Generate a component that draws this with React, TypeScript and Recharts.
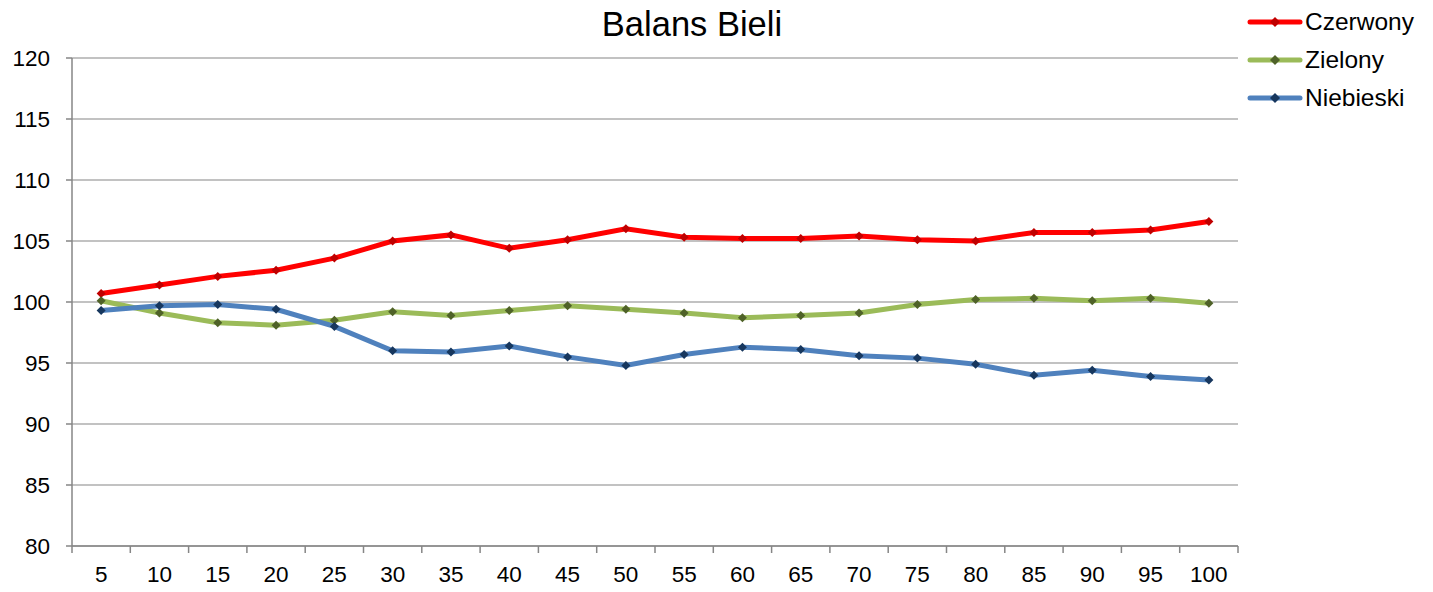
import { LineChart, Line, XAxis, YAxis, CartesianGrid } from "recharts";

const categories = ["5", "10", "15", "20", "25", "30", "35", "40", "45", "50", "55", "60", "65", "70", "75", "80", "85", "90", "95", "100"];
const czerwony = [100.7, 101.4, 102.1, 102.6, 103.6, 105.0, 105.5, 104.4, 105.1, 106.0, 105.3, 105.2, 105.2, 105.4, 105.1, 105.0, 105.7, 105.7, 105.9, 106.6];
const zielony = [100.1, 99.1, 98.3, 98.1, 98.5, 99.2, 98.9, 99.3, 99.7, 99.4, 99.1, 98.7, 98.9, 99.1, 99.8, 100.2, 100.3, 100.1, 100.3, 99.9];
const niebieski = [99.3, 99.7, 99.8, 99.4, 98.0, 96.0, 95.9, 96.4, 95.5, 94.8, 95.7, 96.3, 96.1, 95.6, 95.4, 94.9, 94.0, 94.4, 93.9, 93.6];
const yTicks = [80, 85, 90, 95, 100, 105, 110, 115, 120];

const series = [
  { key: "Czerwony", line: "#ff0000", dot: "#c00000" },
  { key: "Zielony", line: "#9bbb59", dot: "#4f6228" },
  { key: "Niebieski", line: "#4f81bd", dot: "#17375e" },
];

const data = categories.map((c, i) => ({
  cat: c,
  Czerwony: czerwony[i],
  Zielony: zielony[i],
  Niebieski: niebieski[i],
}));

const FONT = "'Liberation Sans', Arial, sans-serif";
const BAND = (1238 - 72) / categories.length;
const AXIS_Y = 546;

const Diamond = (color) => (props) => {
  const { cx, cy, index } = props;
  if (cx == null || cy == null) return null;
  const r = 4.5;
  return (
    <path
      key={index}
      d={`M${cx},${cy - r}L${cx + r},${cy}L${cx},${cy + r}L${cx - r},${cy}Z`}
      fill={color}
    />
  );
};

const XTick = (props) => {
  const { x, payload, index } = props;
  return (
    <g>
      {index === 0 && (
        <line x1={x - BAND / 2} x2={x - BAND / 2} y1={AXIS_Y} y2={AXIS_Y + 7} stroke="#868686" strokeWidth={1.5} />
      )}
      <line x1={x + BAND / 2} x2={x + BAND / 2} y1={AXIS_Y} y2={AXIS_Y + 7} stroke="#868686" strokeWidth={1.5} />
      <text x={x} y={AXIS_Y + 36} textAnchor="middle" fontSize={22.5} fill="#000" fontFamily={FONT}>
        {payload.value}
      </text>
    </g>
  );
};

const LegendBox = () => (
  <div style={{ position: "absolute", left: 1247, top: 3, fontFamily: FONT, fontSize: 24.5 }}>
    {series.map((s) => (
      <div key={s.key} style={{ display: "flex", alignItems: "center", height: 38 }}>
        <svg width={56} height={14} style={{ marginRight: 2 }}>
          <line x1={3} x2={53} y1={7} y2={7} stroke={s.line} strokeWidth={5} strokeLinecap="round" />
          <path d="M28,2L33,7L28,12L23,7Z" fill={s.dot} />
        </svg>
        <span>{s.key}</span>
      </div>
    ))}
  </div>
);

export default function App() {
  return (
    <div style={{ position: "absolute", left: 0, top: 0, width: 1433, height: 592, background: "#fff" }}>
      <div
        style={{
          position: "absolute",
          left: 0,
          width: 1384,
          top: 5,
          textAlign: "center",
          fontFamily: FONT,
          fontSize: 34.5,
          color: "#000",
          lineHeight: "normal",
        }}
      >
        Balans Bieli
      </div>
      <LegendBox />
      <LineChart
        width={1433}
        height={592}
        data={data}
        margin={{ top: 58, right: 195, bottom: 0, left: 0 }}
      >
        <CartesianGrid vertical={false} stroke="#868686" strokeWidth={1.2} />
        <XAxis
          dataKey="cat"
          height={46}
          padding={{ left: BAND / 2, right: BAND / 2 }}
          axisLine={{ stroke: "#868686", strokeWidth: 1.5 }}
          tickLine={false}
          tick={<XTick />}
          interval={0}
        />
        <YAxis
          domain={[80, 120]}
          ticks={yTicks}
          width={72}
          axisLine={{ stroke: "#868686", strokeWidth: 1.5 }}
          tickLine={{ stroke: "#868686", strokeWidth: 1.5 }}
          tickSize={6}
          tickMargin={16}
          interval={0}
          tick={{ fontSize: 22.5, fill: "#000", fontFamily: FONT }}
        />
        {series.map((s) => (
          <Line
            key={s.key}
            dataKey={s.key}
            type="linear"
            stroke={s.line}
            strokeWidth={5}
            dot={Diamond(s.dot)}
            activeDot={false}
            isAnimationActive={false}
          />
        ))}
      </LineChart>
    </div>
  );
}
